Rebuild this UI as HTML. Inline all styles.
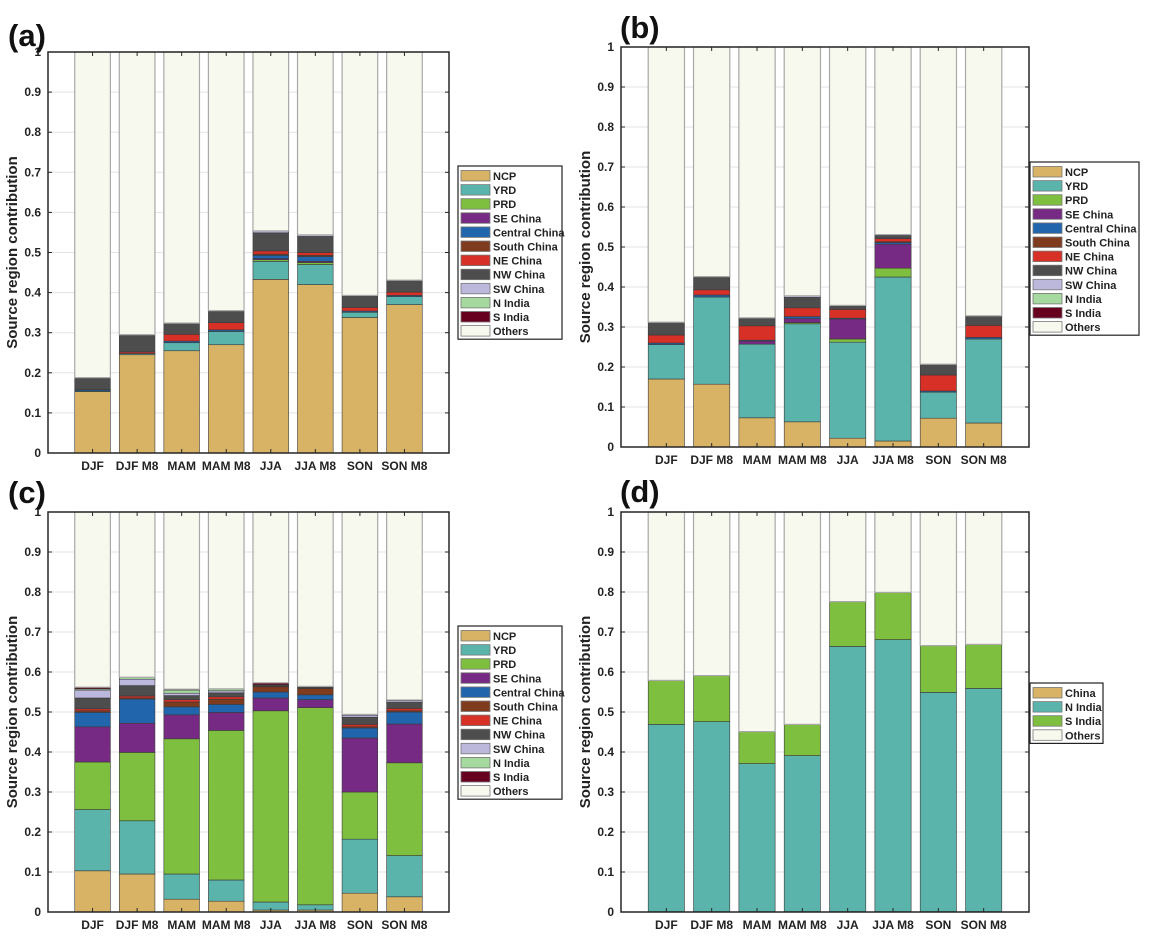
<!DOCTYPE html>
<html><head><meta charset="utf-8"><style>
body{margin:0;background:#fff}
svg{display:block;font-family:"Liberation Sans",Arial,sans-serif}
</style></head><body>
<svg id="fig" width="1151" height="941" viewBox="0 0 1151 941" xmlns="http://www.w3.org/2000/svg"></svg>
<script>
const categories = ["DJF","DJF M8","MAM","MAM M8","JJA","JJA M8","SON","SON M8"];
const yTicks = [0,0.1,0.2,0.3,0.4,0.5,0.6,0.7,0.8,0.9,1];
const yTickLabels = ["0","0.1","0.2","0.3","0.4","0.5","0.6","0.7","0.8","0.9","1"];
const regionNames = ["NCP","YRD","PRD","SE China","Central China","South China","NE China","NW China","SW China","N India","S India","Others"];
const regionColors = ["#d8b365","#5ab4ac","#7fbf3f","#762a83","#2166ac","#7f3b1e","#d73027","#4d4d4d","#bcb8dc","#a6d9a0","#67001f","#f8f9ee"];
const dNames = ["China","N India","S India","Others"];
const dColors = ["#d8b365","#5ab4ac","#7fbf3f","#f8f9ee"];
// per category: values for each region except Others (Others = remainder)
const seriesA = [
 [0.153,0.002,0,0,0.003,0,0,0.030,0,0,0],
 [0.245,0.003,0,0,0,0,0.004,0.042,0,0,0.001],
 [0.255,0.020,0,0,0.004,0,0.017,0.028,0,0,0],
 [0.270,0.033,0,0,0.004,0,0.018,0.030,0,0,0],
 [0.433,0.045,0.004,0.003,0.008,0.003,0.008,0.045,0.005,0,0],
 [0.420,0.050,0.005,0.003,0.012,0.003,0.007,0.040,0.004,0,0],
 [0.338,0.013,0,0,0.003,0,0.009,0.030,0,0,0],
 [0.370,0.020,0,0,0.003,0,0.008,0.030,0,0,0]
];
const seriesB = [
 [0.170,0.086,0,0,0.004,0,0.020,0.032,0,0,0],
 [0.157,0.218,0,0,0.005,0,0.013,0.033,0,0,0],
 [0.073,0.184,0,0.008,0.002,0,0.036,0.020,0,0,0],
 [0.063,0.245,0.003,0.010,0.005,0,0.022,0.026,0.004,0,0],
 [0.022,0.240,0.008,0.050,0.002,0,0.022,0.010,0,0,0],
 [0.015,0.410,0.022,0.060,0.004,0.002,0.008,0.008,0.002,0,0],
 [0.072,0.065,0,0,0.003,0,0.040,0.027,0,0,0],
 [0.060,0.210,0,0,0.004,0,0.030,0.024,0,0,0]
];
const seriesC = [
 [0.103,0.153,0.119,0.088,0.036,0.004,0.005,0.027,0.020,0.003,0.004],
 [0.095,0.133,0.171,0.073,0.060,0.003,0.005,0.026,0.016,0.005,0],
 [0.032,0.063,0.338,0.060,0.020,0.012,0.006,0.010,0.006,0.008,0.002],
 [0.027,0.053,0.374,0.045,0.020,0.013,0.006,0.010,0.005,0.005,0],
 [0.005,0.020,0.478,0.032,0.015,0.013,0.002,0.003,0,0,0.005],
 [0.005,0.013,0.493,0.020,0.012,0.016,0,0.003,0,0,0.002],
 [0.047,0.135,0.118,0.135,0.025,0.003,0.006,0.018,0.005,0.002,0],
 [0.038,0.103,0.232,0.097,0.030,0.003,0.006,0.015,0.004,0.002,0]
];
const seriesD = [
 [0.001,0.468,0.110],
 [0.001,0.475,0.115],
 [0.001,0.370,0.080],
 [0.001,0.390,0.078],
 [0.001,0.663,0.112],
 [0.001,0.680,0.118],
 [0.001,0.548,0.117],
 [0.001,0.558,0.110]
];

const NS="http://www.w3.org/2000/svg";
const svg=document.getElementById('fig');
function mk(tag,attrs,parent){const e=document.createElementNS(NS,tag);for(const k in attrs)e.setAttribute(k,attrs[k]);(parent||svg).appendChild(e);return e;}

const panels=[
 {id:'a',L:48,R:449,T:52,B:453,data:seriesA,names:regionNames,colors:regionColors,lg:{x:458,y:166,w:104,step:14.1},lx:8,ly:46},
 {id:'b',L:621,R:1029,T:47,B:447,data:seriesB,names:regionNames,colors:regionColors,lg:{x:1030,y:162,w:109,step:14.1},lx:620,ly:38},
 {id:'c',L:48,R:449,T:512,B:912,data:seriesC,names:regionNames,colors:regionColors,lg:{x:458,y:626,w:104,step:14.1},lx:8,ly:503},
 {id:'d',L:621,R:1029,T:512,B:912,data:seriesD,names:dNames,colors:dColors,lg:{x:1030,y:683,w:73,step:14.1},lx:620,ly:502}
];

panels.forEach(p=>{
 const g=mk('g',{});
 
 
 const xs=i=>p.L+(i+1)*(p.R-p.L)/9;
 const ys=v=>p.B-v*(p.B-p.T);
 const bw=0.8*(p.R-p.L)/9;
 yTicks.forEach((t,i)=>{
  if(i>0&&i<yTicks.length-1){const gl=mk('line',{x1:p.L,x2:p.R,y1:ys(t),y2:ys(t),stroke:'#e3e3e3','stroke-width':1},g);
  }
 });
 p.data.forEach((vals,ci)=>{
  let acc=0;
  const full=vals.concat([Math.max(0,1-vals.reduce((a,b)=>a+b,0))]);
  full.forEach((v,si)=>{
   if(v<=0)return;
   const isOther=si===full.length-1;
   const r=mk('rect',{x:xs(ci)-bw/2,y:ys(acc+v),width:bw,height:ys(acc)-ys(acc+v),fill:p.colors[si],stroke:isOther?'#a8a8a8':'#3a3a3a','stroke-width':isOther?1.2:0.6},g);
   
   
   acc+=v;
  });
 });
 const box=mk('rect',{x:p.L,y:p.T,width:p.R-p.L,height:p.B-p.T,fill:'none',stroke:'#262626','stroke-width':1.5},g);
 
 yTicks.forEach((t,i)=>{
  mk('line',{x1:p.L,x2:p.L+4,y1:ys(t),y2:ys(t),stroke:'#262626','stroke-width':1},g);
  mk('line',{x1:p.R,x2:p.R-4,y1:ys(t),y2:ys(t),stroke:'#262626','stroke-width':1},g);
  const tl=mk('text',{x:p.L-7,y:ys(t)+4,'text-anchor':'end','font-size':12,'font-weight':'bold',fill:'#222'},g);
  tl.textContent=yTickLabels[i];
  
 });
 categories.forEach((c,i)=>{
  mk('line',{x1:xs(i),x2:xs(i),y1:p.B,y2:p.B-4,stroke:'#262626','stroke-width':1},g);
  mk('line',{x1:xs(i),x2:xs(i),y1:p.T,y2:p.T+4,stroke:'#262626','stroke-width':1},g);
  const xl=mk('text',{x:xs(i),y:p.B+17,'text-anchor':'middle','font-size':12,'font-weight':'bold',fill:'#222'},g);
  xl.textContent=c;
  
 });
 const cy=(p.T+p.B)/2, tx=p.L-31;
 const yt=mk('text',{x:tx,y:cy,'text-anchor':'middle','font-size':15,'font-weight':'bold',fill:'#222',transform:`rotate(-90 ${tx} ${cy})`},g);
 yt.textContent='Source  region  contribution';
 
 const pl=mk('text',{x:p.lx,y:p.ly,'font-size':31,'font-weight':'bold',fill:'#111'},g);
 pl.textContent='('+p.id+')';
 
 const lg=mk('g',{},g);
 
 const n=p.names.length;
 mk('rect',{x:p.lg.x,y:p.lg.y,width:p.lg.w,height:n*p.lg.step+4,fill:'#fff',stroke:'#222','stroke-width':1.2},lg);
 p.names.forEach((nm,i)=>{
  const ey=p.lg.y+3+i*p.lg.step;
  const e=mk('g',{},lg);
  
  mk('rect',{x:p.lg.x+3,y:ey+1.5,width:29,height:10.5,fill:p.colors[i],stroke:'#777','stroke-width':0.8},e);
  const t=mk('text',{x:p.lg.x+35,y:ey+11,'font-size':11,'font-weight':'bold',fill:'#222'},e);
  t.textContent=nm;
 });
});
</script>
</body></html>
